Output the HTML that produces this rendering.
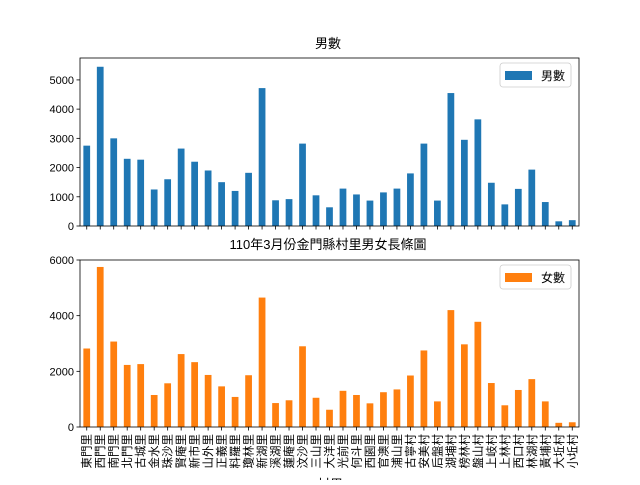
<!DOCTYPE html>
<html><head><meta charset="utf-8"><style>
body{margin:0;background:#fff}
svg text{font-family:"Liberation Sans","DejaVu Sans","Noto Sans CJK TC",sans-serif;fill:#000}
</style></head><body>
<svg id="c" width="640" height="480" viewBox="0 0 640 480"></svg>
<script>
const categories=["東門里","西門里","南門里","北門里","古城里","金水里","珠沙里","賢庵里","新市里","山外里","正義里","料羅里","瓊林里","新湖里","溪湖里","蓮庵里","汶沙里","三山里","大洋里","光前里","何斗里","西園里","官澳里","浦山里","古寧村","安美村","后盤村","湖埔村","榜林村","盤山村","上岐村","上林村","西口村","林湖村","黃埔村","大坵村","小坵村"];
const maleValues=[2750,5450,3000,2300,2270,1250,1600,2650,2200,1900,1500,1200,1820,4720,880,920,2820,1050,640,1280,1080,870,1150,1280,1800,2820,870,4550,2950,3650,1480,740,1270,1930,820,160,200];
const femaleValues=[2820,5750,3070,2230,2260,1150,1570,2620,2330,1870,1460,1080,1860,4650,860,960,2900,1050,620,1300,1150,850,1250,1350,1850,2750,920,4200,2970,3780,1580,780,1330,1720,920,150,170];
const maleTicks=[0,1000,2000,3000,4000,5000];
const femaleTicks=[0,2000,4000,6000];
const NS="http://www.w3.org/2000/svg";
const svg=document.getElementById("c");
function mk(t,a,p){const e=document.createElementNS(NS,t);for(const k in a)e.setAttribute(k,a[k]);(p||svg).appendChild(e);return e;}
const L=80,R=579,step=(R-L)/categories.length;
const xc=i=>L+step*(i+0.5);
function panel(name,top,bottom,ymax,vals,ticks,color,label,showLabels){
  const g=mk("g",{});
  
  
  const y=v=>bottom-(v/ymax)*(bottom-top);
  vals.forEach((v,i)=>{
    const r=mk("rect",{x:xc(i)-step*0.25,y:y(v),width:step*0.5,height:bottom-y(v),fill:color},g);
    
    
  });
  mk("rect",{x:L,y:top,width:R-L,height:bottom-top,fill:"none",stroke:"#000","stroke-width":0.8},g);
  ticks.forEach(t=>{
    mk("line",{x1:L-3.5,x2:L,y1:y(t),y2:y(t),stroke:"#000","stroke-width":0.8},g);
    const tx=mk("text",{x:L-6,y:y(t)+4,"text-anchor":"end","font-size":"11"},g);
    tx.textContent=t;
    
    
  });
  categories.forEach((c,i)=>{
    mk("line",{x1:xc(i),x2:xc(i),y1:bottom,y2:bottom+3.5,stroke:"#000","stroke-width":0.8},g);
    if(showLabels){
      const tx=mk("text",{x:0,y:0,"font-size":"11.5",transform:`translate(${xc(i)+4},${bottom+7}) rotate(-90)`,"text-anchor":"end"},g);
      tx.textContent=c;
      
      
    }
  });
  const lg=mk("g",{},g);
  
  
  mk("rect",{x:500,y:top+5,width:71,height:24,rx:3,fill:"#fff",stroke:"#ccc","stroke-width":0.8},lg);
  mk("rect",{x:505,y:top+13,width:27,height:9,fill:color},lg);
  const lt=mk("text",{x:541,y:top+22,"font-size":"12"},lg);lt.textContent=label;
}
panel("male",58,226,5750,maleValues,maleTicks,"#1f77b4","男數",false);
panel("female",260,427,6000,femaleValues,femaleTicks,"#ff7f0e","女數",true);
const t1=mk("text",{x:328,y:48,"text-anchor":"middle","font-size":"13"});t1.textContent="男數";

const t2=mk("text",{x:328,y:249,"text-anchor":"middle","font-size":"13"});t2.textContent="110年3月份金門縣村里男女長條圖";

const xl=mk("text",{x:330,y:489,"text-anchor":"middle","font-size":"13"});xl.textContent="村里";

</script>
</body></html>
